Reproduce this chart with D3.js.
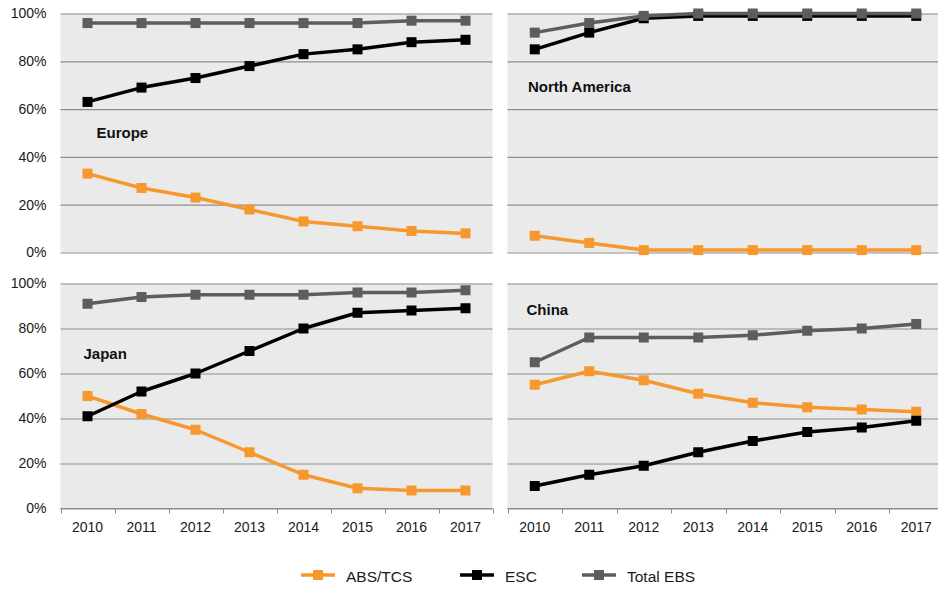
<!DOCTYPE html>
<html>
<head>
<meta charset="utf-8">
<script src="https://cdn.jsdelivr.net/npm/d3@7"></script>
<style>
  html, body { margin: 0; padding: 0; background: #fff; }
  svg { display: block; font-family: "Liberation Sans", Arial, sans-serif; }
</style>
</head>
<body>
<svg id="chart" width="938" height="589"></svg>
<script>
// Share of new vehicles fitted with each braking / stability system, by region
const years = ["2010", "2011", "2012", "2013", "2014", "2015", "2016", "2017"];
const seriesNames = ["ABS/TCS", "ESC", "Total EBS"];
const yTicks = [0, 20, 40, 60, 80, 100];

const europeABS   = [33, 27, 23, 18, 13, 11, 9, 8];
const europeESC   = [63, 69, 73, 78, 83, 85, 88, 89];
const europeTotal = [96, 96, 96, 96, 96, 96, 97, 97];

const naABS   = [7, 4, 1, 1, 1, 1, 1, 1];
const naESC   = [85, 92, 98, 99, 99, 99, 99, 99];
const naTotal = [92, 96, 99, 100, 100, 100, 100, 100];

const japanABS   = [50, 42, 35, 25, 15, 9, 8, 8];
const japanESC   = [41, 52, 60, 70, 80, 87, 88, 89];
const japanTotal = [91, 94, 95, 95, 95, 96, 96, 97];

const chinaABS   = [55, 61, 57, 51, 47, 45, 44, 43];
const chinaESC   = [10, 15, 19, 25, 30, 34, 36, 39];
const chinaTotal = [65, 76, 76, 76, 77, 79, 80, 82];

const colors = { "ABS/TCS": "#f7982f", "ESC": "#000000", "Total EBS": "#5d5d5d" };

const panels = [
  { name: "Europe",        series: [europeABS, europeESC, europeTotal], x: [60.5, 492.5],  y: [252.5, 13.5],  yLabels: true,  xAxis: false, label: [96.5, 138] },
  { name: "North America", series: [naABS, naESC, naTotal],             x: [507.5, 943.5], y: [252.5, 13.5],  yLabels: false, xAxis: false, label: [528, 92] },
  { name: "Japan",         series: [japanABS, japanESC, japanTotal],    x: [60.5, 492.5],  y: [508.5, 283.5], yLabels: true,  xAxis: true,  label: [83.5, 358.5] },
  { name: "China",         series: [chinaABS, chinaESC, chinaTotal],    x: [507.5, 943.5], y: [508.5, 283.5], yLabels: false, xAxis: true,  label: [526.5, 315] }
];

const svg = d3.select("#chart");
const markerSize = 10;

panels.forEach(p => {
  const x = d3.scaleBand().domain(years).range(p.x);
  const y = d3.scaleLinear().domain([0, 100]).range(p.y);
  const g = svg.append("g");

  // plot background
  g.append("rect")
    .attr("x", p.x[0]).attr("y", p.y[1])
    .attr("width", p.x[1] - p.x[0]).attr("height", p.y[0] - p.y[1])
    .attr("fill", "#eaeaea");

  // horizontal gridlines
  const grid = g.append("g")
    .attr("transform", `translate(${p.x[0]},0)`)
    .call(d3.axisLeft(y).tickValues(yTicks).tickSize(-(p.x[1] - p.x[0])).tickFormat(""));
  grid.select(".domain").remove();
  grid.selectAll(".tick line").attr("stroke", "#8c8c8c").attr("stroke-width", 1.2);

  // y tick labels
  if (p.yLabels) {
    const ya = g.append("g")
      .attr("transform", `translate(${p.x[0] - 14},0)`)
      .call(d3.axisLeft(y).tickValues(yTicks).tickSize(0).tickPadding(0).tickFormat(d => d + "%"));
    ya.select(".domain").remove();
    ya.selectAll("text").attr("font-size", "14px").attr("fill", "#1a1a1a")
      .attr("font-family", "'Liberation Sans', Arial, sans-serif");
  }

  // x axis with ticks between categories
  if (p.xAxis) {
    const xa = g.append("g").attr("transform", `translate(0,${p.y[0]})`);
    xa.append("line")
      .attr("x1", p.x[0]).attr("x2", p.x[1])
      .attr("stroke", "#8c8c8c").attr("stroke-width", 1.2);
    const bounds = years.map(d => x(d)).concat([p.x[1]]);
    xa.selectAll("line.tk").data(bounds).join("line").attr("class", "tk")
      .attr("x1", d => Math.round(d) + 0.5).attr("x2", d => Math.round(d) + 0.5)
      .attr("y1", 0).attr("y2", 5)
      .attr("stroke", "#8c8c8c").attr("stroke-width", 1);
    xa.selectAll("text").data(years).join("text")
      .attr("x", d => x(d) + x.bandwidth() / 2)
      .attr("y", 23)
      .attr("text-anchor", "middle")
      .attr("font-size", "14px").attr("fill", "#1a1a1a")
      .text(d => d);
  }

  // series lines and markers
  const line = d3.line()
    .x((d, i) => x(years[i]) + x.bandwidth() / 2)
    .y(d => y(d));
  p.series.forEach((vals, si) => {
    const c = colors[seriesNames[si]];
    g.append("path").datum(vals)
      .attr("d", line)
      .attr("fill", "none")
      .attr("stroke", c)
      .attr("stroke-width", 3.5)
      .attr("stroke-linejoin", "round");
    g.selectAll(null).data(vals).join("rect")
      .attr("x", (d, i) => x(years[i]) + x.bandwidth() / 2 - markerSize / 2)
      .attr("y", d => y(d) - markerSize / 2)
      .attr("width", markerSize).attr("height", markerSize)
      .attr("fill", c);
  });

  // region label
  g.append("text")
    .attr("x", p.label[0]).attr("y", p.label[1])
    .attr("font-size", "15px").attr("font-weight", "bold").attr("fill", "#111")
    .text(p.name);
});

// legend
const legendX = [301, 460, 582];
const legend = svg.append("g").attr("transform", "translate(0,575)");
seriesNames.forEach((name, i) => {
  const lg = legend.append("g").attr("transform", `translate(${legendX[i]},0)`);
  lg.append("line").attr("x1", 0).attr("x2", 34).attr("y1", 0).attr("y2", 0)
    .attr("stroke", colors[name]).attr("stroke-width", 3.5);
  lg.append("rect").attr("x", 17 - markerSize / 2).attr("y", -markerSize / 2)
    .attr("width", markerSize).attr("height", markerSize).attr("fill", colors[name]);
  lg.append("text").attr("x", 45).attr("y", 6.5)
    .attr("font-size", "15.5px").attr("fill", "#1a1a1a").text(name);
});
</script>
</body>
</html>
